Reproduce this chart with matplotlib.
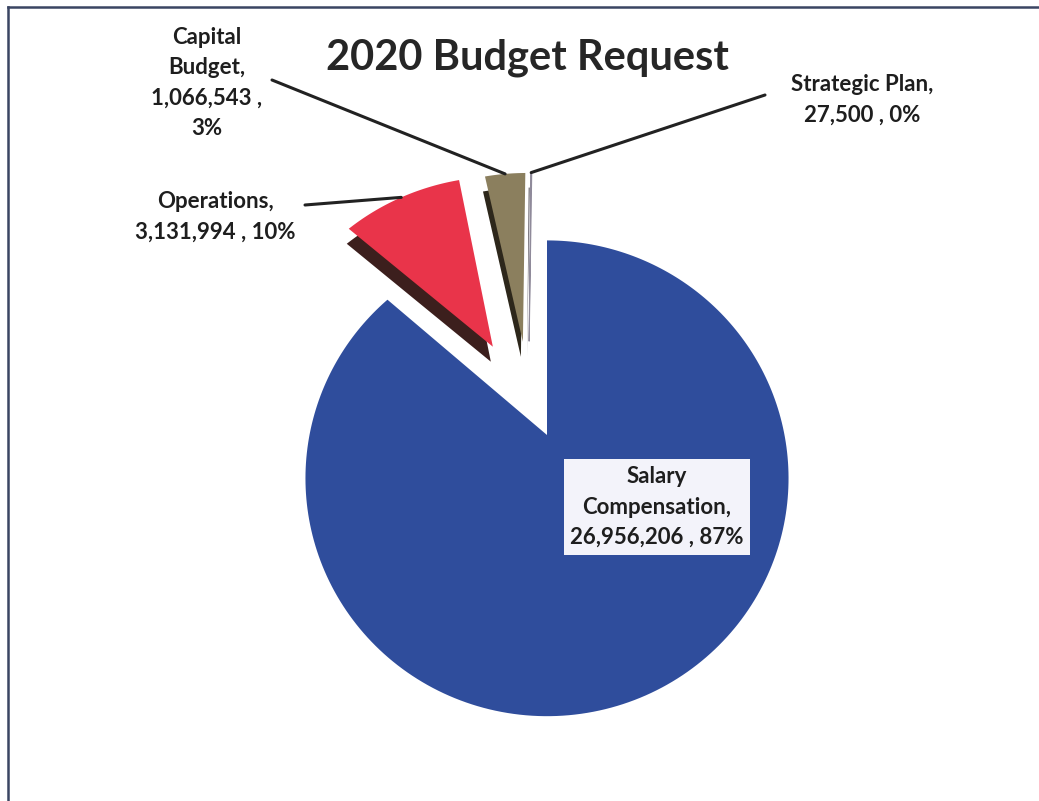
import numpy as np
import matplotlib
matplotlib.use('Agg')
import matplotlib.pyplot as plt
import matplotlib.transforms as mtransforms
from matplotlib.path import Path
from matplotlib.lines import Line2D

title = '2020 Budget Request'
names = ['Salary\nCompensation', 'Operations', 'Capital\nBudget', 'Strategic Plan']
amounts = [26956206, 3131994, 1066543, 27500]
shares = ['87%', '10%', '3%', '0%']
breaks = [' ', ' ', '\n', ' ']   # how the share is put after the amount

face_colors = ['#2f4d9c', '#e9344a', '#8b7f5e', '#8f8a9a']
side_colors = ['#2f4d9c', '#3c1f1d', '#2d271b', '#55505a']
explode = [0, 0.48, 0.44, 0.44]
nudge = [0, 0, -0.06, -0.08]     # extra sideways shift of the small slices

W, H = 1039, 801
CX, CY = 547, 435     # pie centre in pixels
SX, SY = 237.5, 230.0  # pixels per unit
TILT = 0.182           # perspective: top is farther away

# label centres (pixels) and start of leader lines
label_pos = [(657, 507), (215, 217), (207, 83), (862, 100)]
lead_start = [None, (305, 205), (272, 80), (765, 95)]

plt.rcParams['font.family'] = ['Lato', 'DejaVu Sans']


def px(x, y):
    return (x - CX) / SX, (CY - y) / SY


def tilt_point(x, y):
    w = 1.0 + TILT * y
    return x / w, y / w


class Tilt(mtransforms.Transform):
    input_dims = 2
    output_dims = 2
    is_separable = False
    has_inverse = False

    def transform_non_affine(self, values):
        v = np.asarray(values, dtype=float)
        w = 1.0 + TILT * v[:, 1]
        return v / w[:, None]

    def transform_path_non_affine(self, path):
        up = mtransforms.Affine2D().scale(1000)
        polys = path.to_polygons(transform=up)
        parts = [Path(self.transform_non_affine(p / 1000.0), closed=True) for p in polys]
        return Path.make_compound_path(*parts)


fig = plt.figure(figsize=(W / 100, H / 100), dpi=100)
ax = fig.add_axes([0, 0, 1, 1])

sides, _ = ax.pie(amounts, explode=explode, colors=side_colors, startangle=90,
                  counterclock=False, wedgeprops=dict(linewidth=0))
wedges, _ = ax.pie(amounts, explode=explode, colors=face_colors, startangle=90,
                   counterclock=False, wedgeprops=dict(linewidth=0))

for group in (sides, wedges):
    for w, dx in zip(group, nudge):
        cx, cy = w.center
        w.set_center((cx + dx, cy))

depth = mtransforms.Affine2D().translate(-2, -15)
for s in sides:
    s.set_transform(Tilt() + ax.transData + depth)
sides[0].set_visible(False)
for w in wedges:
    w.set_transform(Tilt() + ax.transData)
wedges[3].set_edgecolor(face_colors[3])
wedges[3].set_linewidth(0.8)

# leader lines to the middle of each outer arc
for i, w in enumerate(wedges):
    if lead_start[i] is None:
        continue
    mid = np.deg2rad((w.theta1 + w.theta2) / 2)
    ex, ey = tilt_point(w.center[0] + w.r * np.cos(mid), w.center[1] + w.r * np.sin(mid))
    sx, sy = px(*lead_start[i])
    ax.plot([sx, ex], [sy, ey], color='#222222', lw=2.2, solid_capstyle='round', zorder=3)

for i in range(len(names)):
    txt = f'{names[i]},\n{amounts[i]:,} ,{breaks[i]}{shares[i]}'
    x, y = px(*label_pos[i])
    box = None
    if i == 0:
        box = dict(boxstyle='square,pad=0.3', facecolor='#f3f3fa', edgecolor='none')
    ax.text(x, y, txt, ha='center', va='center', multialignment='center',
            fontsize=16, fontweight='bold', color='#1e1e1e', linespacing=1.55,
            bbox=box, zorder=4)

tx, ty = px(527, 58)
ax.text(tx, ty, title, ha='center', va='center', fontsize=30, fontweight='bold',
        color='#262626', zorder=4)

ax.set_xlim(px(0, 0)[0], px(W, 0)[0])
ax.set_ylim(px(0, H)[1], px(0, 0)[1])
ax.set_aspect('auto')
ax.axis('off')

fig.add_artist(Line2D([8 / W, 8 / W], [0, 1 - 7 / H], transform=fig.transFigure,
                      color='#3a4563', lw=1.8))
fig.add_artist(Line2D([8 / W, 1], [1 - 7 / H, 1 - 7 / H], transform=fig.transFigure,
                      color='#3a4563', lw=1.8))

fig.savefig('out.png', dpi=100)
